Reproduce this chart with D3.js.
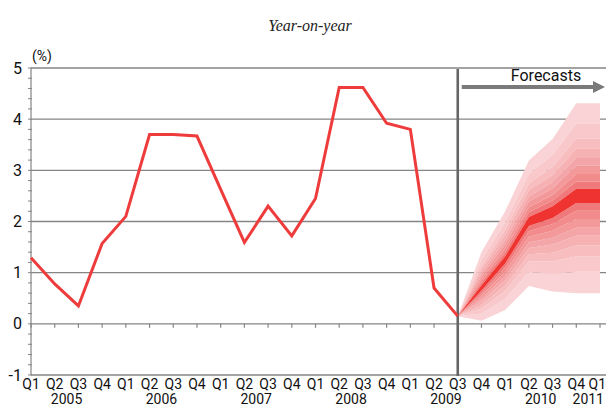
<!DOCTYPE html>
<html>
<head>
<meta charset="utf-8">
<script src="https://cdn.jsdelivr.net/npm/d3@7/dist/d3.min.js"></script>
<style>
  html, body { margin: 0; padding: 0; background: #fff; }
  svg { display: block; }
  .lbl { font-family: "Liberation Sans Narrow", Roboto, "Noto Sans", sans-serif; fill: #111; }
</style>
</head>
<body>
<svg id="chart" width="606" height="410"></svg>
<script>
// Quarter labels, Q1 2005 through Q1 2011
const quarterLabels = [
  "Q1","Q2","Q3","Q4", "Q1","Q2","Q3","Q4", "Q1","Q2","Q3","Q4",
  "Q1","Q2","Q3","Q4", "Q1","Q2","Q3","Q4", "Q1","Q2","Q3","Q4", "Q1"
];
const yearLabels = ["2005", "2006", "2007", "2008", "2009", "2010", "2011"];
const yTicks = [-1, 0, 1, 2, 3, 4, 5];

// Actual year-on-year rate (%), Q1 2005 .. Q3 2009
const actual = [1.29, 0.78, 0.35, 1.57, 2.10, 3.70, 3.70, 3.67, 2.63, 1.59,
                2.30, 1.72, 2.45, 4.62, 4.62, 3.92, 3.80, 0.70, 0.15];

// Forecast fan, Q3 2009 .. Q1 2011: central band edges and outer band edges
const fanMid = [0.15, 0.70, 1.25, 2.00, 2.19, 2.50, 2.50];
const fanUpper = [
  [0.15, 0.75, 1.32, 2.09, 2.30, 2.64, 2.64],
  [0.15, 0.81, 1.40, 2.18, 2.41, 2.78, 2.78],
  [0.15, 0.86, 1.47, 2.28, 2.52, 2.93, 2.93],
  [0.15, 0.93, 1.56, 2.39, 2.65, 3.09, 3.09],
  [0.15, 0.99, 1.64, 2.49, 2.77, 3.24, 3.24],
  [0.15, 1.06, 1.74, 2.61, 2.91, 3.42, 3.42],
  [0.15, 1.13, 1.84, 2.74, 3.07, 3.62, 3.62],
  [0.15, 1.25, 1.99, 2.93, 3.30, 3.91, 3.91],
  [0.15, 1.40, 2.20, 3.19, 3.61, 4.31, 4.31]
];
const fanLower = [
  [0.15, 0.65, 1.18, 1.91, 2.07, 2.36, 2.36],
  [0.15, 0.60, 1.10, 1.81, 1.95, 2.21, 2.21],
  [0.15, 0.55, 1.02, 1.70, 1.82, 2.05, 2.05],
  [0.15, 0.49, 0.93, 1.59, 1.68, 1.88, 1.88],
  [0.15, 0.44, 0.85, 1.48, 1.55, 1.72, 1.72],
  [0.15, 0.37, 0.75, 1.36, 1.39, 1.53, 1.53],
  [0.15, 0.30, 0.64, 1.22, 1.22, 1.32, 1.32],
  [0.15, 0.20, 0.49, 1.02, 0.97, 1.02, 1.02],
  [0.15, 0.06, 0.27, 0.74, 0.63, 0.60, 0.60]
];
const fanStart = 18; // index of Q3 2009

const svg = d3.select("#chart");
const idx = d3.range(quarterLabels.length);
const last = quarterLabels.length - 1;

const x = d3.scalePoint().domain(idx).range([31, 600]);
const y = d3.scaleLinear().domain([-1, 5]).range([375, 68]);

const gridColor = "#858585";

// Title
svg.append("text")
  .attr("x", 310).attr("y", 31)
  .attr("text-anchor", "middle")
  .style("font-family", "'Liberation Serif', 'DejaVu Serif', serif")
  .style("font-style", "italic")
  .style("font-size", "16px")
  .style("fill", "#222")
  .text("Year-on-year");

// Unit label
svg.append("text").attr("class", "lbl")
  .attr("x", 32).attr("y", 61)
  .style("font-size", "14px")
  .text("(%)");

// Horizontal gridlines
svg.append("g").selectAll("line")
  .data(yTicks)
  .join("line")
  .attr("x1", x(0)).attr("x2", 606)
  .attr("y1", d => y(d)).attr("y2", d => y(d))
  .attr("stroke", gridColor)
  .attr("stroke-width", 1.3);

// Forecast fan
const fanX = i => x(fanStart + i);
const band = d3.area()
  .x((d, i) => fanX(i))
  .y0(d => y(d[0]))
  .y1(d => y(d[1]));

const outerCol = d3.interpolateRgb("#f07a7b", "#f9d3d5");
const fanG = svg.append("g");
for (let k = fanUpper.length - 1; k >= 1; k--) {
  const t = (k - 1) / (fanUpper.length - 2);
  const col = outerCol(Math.pow(t, 0.85));
  fanG.append("path")
    .datum(fanUpper[k].map((v, i) => [fanUpper[k - 1][i], v]))
    .attr("d", band).attr("fill", col);
  fanG.append("path")
    .datum(fanLower[k].map((v, i) => [v, fanLower[k - 1][i]]))
    .attr("d", band).attr("fill", col);
}
fanG.append("path")
  .datum(fanLower[0].map((v, i) => [v, fanUpper[0][i]]))
  .attr("d", band).attr("fill", "#ee3330");

// Y axis with minor ticks every 0.2
const yAxisG = svg.append("g");
yAxisG.append("line")
  .attr("x1", x(0)).attr("x2", x(0))
  .attr("y1", y(5)).attr("y2", y(-1))
  .attr("stroke", gridColor).attr("stroke-width", 1.2);
yAxisG.selectAll("line.minor")
  .data(d3.range(-1, 5.001, 0.2))
  .join("line").attr("class", "minor")
  .attr("x1", x(0) - 3).attr("x2", x(0) + 1)
  .attr("y1", d => y(d)).attr("y2", d => y(d))
  .attr("stroke", gridColor).attr("stroke-width", 1);
yAxisG.selectAll("text")
  .data(yTicks)
  .join("text").attr("class", "lbl")
  .attr("x", 22).attr("y", d => y(d) + 5.5)
  .attr("text-anchor", "end")
  .style("font-size", "16px")
  .text(d => d);

// Quarter ticks along the zero line
svg.append("g").selectAll("line")
  .data(idx)
  .join("line")
  .attr("x1", d => x(d)).attr("x2", d => x(d))
  .attr("y1", y(0)).attr("y2", y(0) + 4)
  .attr("stroke", gridColor).attr("stroke-width", 1.2);

// Boundary between actual and forecast
svg.append("line")
  .attr("x1", x(fanStart)).attr("x2", x(fanStart))
  .attr("y1", y(5) + 1).attr("y2", y(-1) + 1)
  .attr("stroke", "#666").attr("stroke-width", 2.6);

// Actual series
svg.append("path")
  .datum(actual)
  .attr("d", d3.line().x((d, i) => x(i)).y(d => y(d)))
  .attr("fill", "none")
  .attr("stroke", "#ee3b3b")
  .attr("stroke-width", 3)
  .attr("stroke-linejoin", "miter");

// Quarter labels (the final one kept inside the right edge)
svg.append("g").selectAll("text")
  .data(quarterLabels)
  .join("text").attr("class", "lbl")
  .attr("x", (d, i) => i === last ? 606 : x(i))
  .attr("y", 389)
  .attr("text-anchor", (d, i) => i === last ? "end" : "middle")
  .style("font-size", "14px")
  .text(d => d);

// Year labels: centred between Q2 and Q3, last one under the final Q1
svg.append("g").selectAll("text")
  .data(yearLabels)
  .join("text").attr("class", "lbl")
  .attr("x", (d, i) => i < yearLabels.length - 1
        ? (x(i * 4 + 1) + x(i * 4 + 2)) / 2
        : 604)
  .attr("y", 404)
  .attr("text-anchor", (d, i) => i < yearLabels.length - 1 ? "middle" : "end")
  .style("font-size", "14px")
  .text(d => d);

// Forecast arrow
const arrowY = 87;
svg.append("line")
  .attr("x1", x(fanStart) + 4).attr("x2", 594)
  .attr("y1", arrowY).attr("y2", arrowY)
  .attr("stroke", "#7a7a7a").attr("stroke-width", 4);
svg.append("path")
  .attr("d", `M593,${arrowY - 6}L605,${arrowY}L593,${arrowY + 6}Z`)
  .attr("fill", "#7a7a7a");
svg.append("text").attr("class", "lbl")
  .attr("x", 546).attr("y", 81)
  .attr("text-anchor", "middle")
  .style("font-size", "16px")
  .text("Forecasts");
</script>
</body>
</html>
